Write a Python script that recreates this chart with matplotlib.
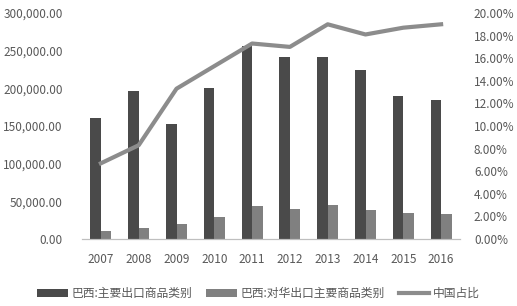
import numpy as np
import matplotlib
matplotlib.use("Agg")
import matplotlib.pyplot as plt
from matplotlib.ticker import FuncFormatter


plt.rcParams["font.family"] = ["Noto Sans CJK SC", "DejaVu Sans"]


# Données
years = ["2007", "2008", "2009", "2010", "2011",
         "2012", "2013", "2014", "2015", "2016"]
export_total = [160000, 197000, 152000, 201000, 256000,
                241000, 241000, 225000, 190000, 185000]
export_china = [10000, 15000, 19500, 29000, 44000,
                40000, 45000, 39000, 35000, 33000]
china_share = [6.7, 8.3, 13.3, 15.3, 17.3,
               17.0, 19.0, 18.1, 18.7, 19.0]

label_total = "巴西:主要出口商品类别"
label_china = "巴西:对华出口主要商品类别"
label_share = "中国占比"

text_color = "#595959"


fig = plt.figure(figsize=(5.17, 3.06), dpi=100)
ax = fig.add_axes([82 / 517, 67 / 306, 378 / 517, 226 / 306])
ax2 = ax.twinx()

x = np.arange(len(years))
width = 0.28

b1 = ax.bar(x - width / 2, export_total, width,
            color="#4a4a4a", label=label_total, zorder=2)
b2 = ax.bar(x + width / 2, export_china, width,
            color="#808080", label=label_china, zorder=2)

l1, = ax2.plot(x, china_share, color="#8c8c8c",
               linewidth=3, label=label_share)

ax.set_xlim(-0.5, len(years) - 0.5)
ax.set_ylim(0, 300000)
ax.set_yticks(np.arange(0, 300001, 50000))
ax.yaxis.set_major_formatter(FuncFormatter(lambda v, p: f"{v:,.2f}"))

ax2.set_ylim(0, 20)
ax2.set_yticks(np.arange(0, 20.1, 2))
ax2.yaxis.set_major_formatter(FuncFormatter(lambda v, p: f"{v:.2f}%"))

ax.set_xticks(x)
ax.set_xticklabels(years)

for a in (ax, ax2):
    for side in ("top", "left", "right"):
        a.spines[side].set_visible(False)
    a.spines["bottom"].set_color("#bfbfbf")
    a.tick_params(length=0, colors=text_color, labelsize=8.5)

ax.tick_params(axis="y", pad=14)
ax.tick_params(axis="x", pad=10)
ax2.tick_params(axis="y", pad=10)

fig.legend(
    [b1, b2, l1],
    [label_total, label_china, label_share],
    loc="lower center",
    bbox_to_anchor=(0.5, -0.015),
    ncol=3,
    frameon=False,
    fontsize=8.5,
    labelcolor=text_color,
    handlelength=2.6,
    handleheight=0.6,
    columnspacing=1.2,
    handletextpad=0.3
)

fig.savefig("out.png", dpi=100)
plt.close()
